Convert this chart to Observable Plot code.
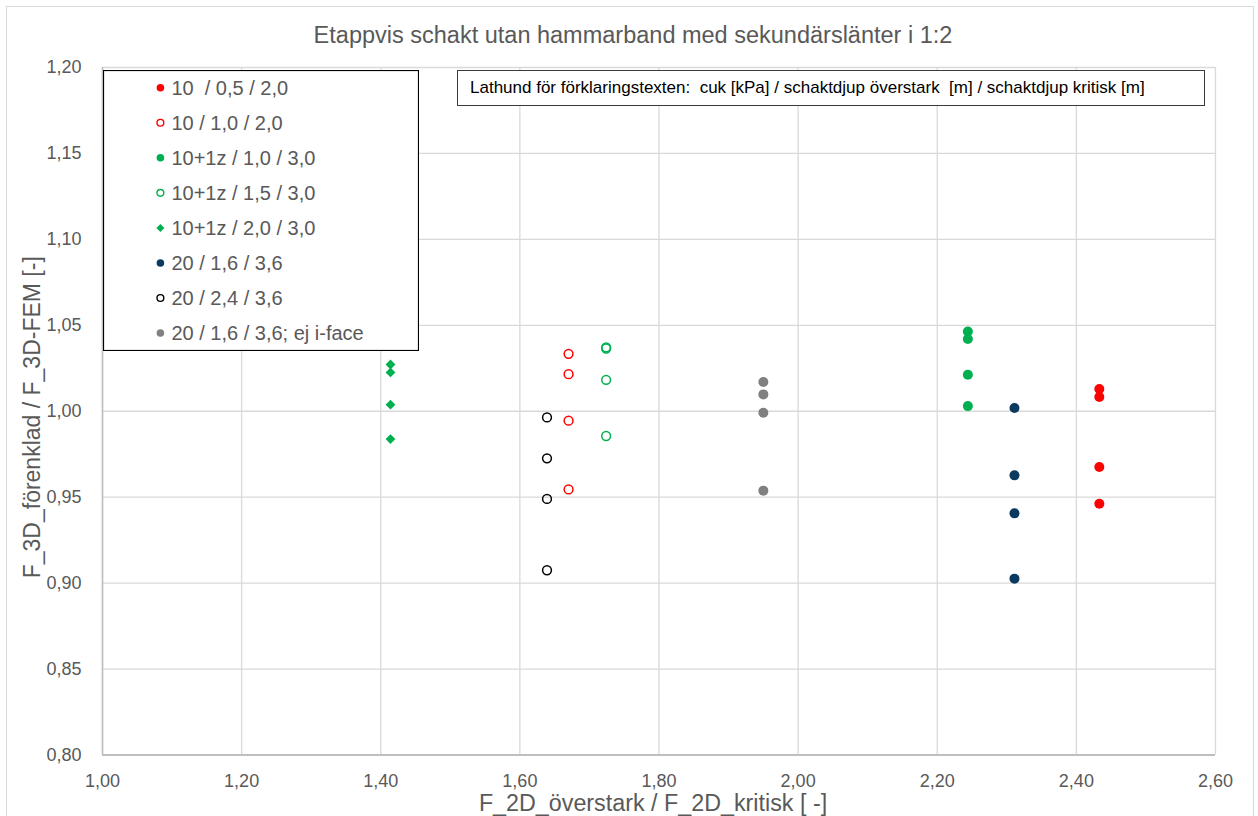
<!DOCTYPE html>
<html>
<head>
<meta charset="utf-8">
<script src="https://cdn.jsdelivr.net/npm/d3@7"></script>
<script src="https://cdn.jsdelivr.net/npm/@observablehq/plot@0.6"></script>
<style>
  html, body { margin: 0; padding: 0; background: #fff; overflow: hidden; }
  #chart { position: relative; width: 1258px; height: 816px; font-family: "Liberation Sans", Arial, sans-serif; }
  #chart > svg.main { position: absolute; left: 0; top: 0; }
  #chart > svg.legend { position: absolute; left: 103px; top: 70px; }
  .frame { position: absolute; left: 6px; top: 6px; width: 1246px; height: 830px; border: 1px solid #d9d9d9; pointer-events: none; }
  .note { position: absolute; left: 457px; top: 70px; width: 746px; height: 34px; border: 1px solid #3a3a3a; background: #fff;
          box-sizing: content-box; font-size: 17px; line-height: 34px; color: #000; padding: 0; white-space: pre; }
  .note span { position: absolute; left: 12px; top: 0; }
</style>
</head>
<body>
<div id="chart"></div>
<script>
// Chart texts
const title = "Etappvis schakt utan hammarband med sekundärslänter i 1:2";
const xTitle = "F_2D_överstark / F_2D_kritisk [ -]";
const yTitle = "F_3D_förenklad / F_3D-FEM [-]";
const noteText = "Lathund för förklaringstexten:  cuk [kPa] / schaktdjup överstark  [m] / schaktdjup kritisk [m]";

// Tick values on both axes
const xTicks = [1.0, 1.2, 1.4, 1.6, 1.8, 2.0, 2.2, 2.4, 2.6];
const yTicks = [0.80, 0.85, 0.90, 0.95, 1.00, 1.05, 1.10, 1.15, 1.20];

// Series: cuk / schaktdjup överstark / schaktdjup kritisk
const seriesNames = [
  "10  / 0,5 / 2,0",
  "10 / 1,0 / 2,0",
  "10+1z / 1,0 / 3,0",
  "10+1z / 1,5 / 3,0",
  "10+1z / 2,0 / 3,0",
  "20 / 1,6 / 3,6",
  "20 / 2,4 / 3,6",
  "20 / 1,6 / 3,6; ej i-face"
];
// F_2D_överstark / F_2D_kritisk for each series
const seriesX = [2.433, 1.670, 2.244, 1.724, 1.414, 2.311, 1.639, 1.950];
// F_3D_förenklad / F_3D-FEM, four cases per series
const seriesY = [
  [1.0129, 1.0083, 0.9676, 0.9462],
  [1.0334, 1.0216, 0.9945, 0.9545],
  [1.0464, 1.0420, 1.0212, 1.0030],
  [1.0372, 1.0365, 1.0183, 0.9856],
  [1.0272, 1.0226, 1.0038, 0.9838],
  [1.0019, 0.9627, 0.9406, 0.9026],
  [0.9964, 0.9726, 0.9490, 0.9075],
  [1.0170, 1.0098, 0.9991, 0.9538]
];

// Marker styles per series
const seriesColor = ["#ff0000", "#ff0000", "#00b050", "#00b050", "#00b050", "#0b3a60", "#000000", "#808080"];
const seriesMarker = ["dot", "ring", "dot", "ring", "diamond", "dot", "ring", "dot"];

const rows = seriesNames.flatMap((name, i) =>
  seriesY[i].map(y => ({series: i, name, x: seriesX[i], y}))
);

const fmt = d => d.toFixed(2).replace(".", ",");
const grey = "#595959";
const font = '"Liberation Sans", Arial, sans-serif';

function markFor(i) {
  const data = rows.filter(d => d.series === i);
  const c = seriesColor[i];
  switch (seriesMarker[i]) {
    case "ring": return Plot.dot(data, {x: "x", y: "y", r: 4.4, stroke: c, strokeWidth: 1.5, fill: "none"});
    case "diamond": return Plot.dot(data, {x: "x", y: "y", r: 4.4, symbol: "diamond2", fill: c, stroke: "none"});
    default: return Plot.dot(data, {x: "x", y: "y", r: 5, fill: c, stroke: "none"});
  }
}

const svg = Plot.plot({
  width: 1258,
  height: 816,
  marginLeft: 102,
  marginRight: 43,
  marginTop: 67,
  marginBottom: 61.5,
  style: {fontFamily: font, background: "transparent", overflow: "visible"},
  x: {domain: [1.0, 2.6], label: null},
  y: {domain: [0.8, 1.2], label: null},
  marks: [
    Plot.gridX(xTicks, {stroke: "#d9d9d9", strokeOpacity: 1, strokeWidth: 1.3}),
    Plot.gridY(yTicks, {stroke: "#d9d9d9", strokeOpacity: 1, strokeWidth: 1.3}),
    Plot.ruleX([1.0], {stroke: "#bfbfbf", strokeWidth: 1.6}),
    Plot.ruleY([0.8], {stroke: "#bfbfbf", strokeWidth: 2}),
    Plot.axisX(xTicks, {tickSize: 0, tickPadding: 19, tickFormat: fmt, fontSize: 18, color: grey, label: null}),
    Plot.axisY(yTicks, {tickSize: 0, tickPadding: 21, tickFormat: fmt, fontSize: 18, color: grey, label: null}),
    ...seriesNames.map((_, i) => markFor(i)),
    Plot.text([title], {text: d => d, frameAnchor: "top", lineAnchor: "middle", dx: -26, dy: -32, fontSize: 23.5, fill: grey}),
    Plot.text([xTitle], {text: d => d, frameAnchor: "bottom", lineAnchor: "middle", dx: -6, dy: 48.5, fontSize: 23.3, fill: grey}),
    Plot.text([yTitle], {text: d => d, frameAnchor: "left", textAnchor: "middle", lineAnchor: "middle", dx: -70, dy: 6, rotate: -90, fontSize: 23, fill: grey})
  ]
});
svg.classList.add("main");

const chart = document.getElementById("chart");
chart.appendChild(svg);

// Outer chart frame
const frame = document.createElement("div");
frame.className = "frame";
chart.appendChild(frame);

// Explanation box for the legend texts
const note = document.createElement("div");
note.className = "note";
const noteSpan = document.createElement("span");
noteSpan.textContent = noteText;
note.appendChild(noteSpan);
chart.appendChild(note);

// Legend box
const legW = 316, legH = 281, rowTop = 17.7, rowStep = 35.05;
const leg = d3.create("svg")
  .attr("class", "legend")
  .attr("width", legW)
  .attr("height", legH)
  .style("font-family", font);
leg.append("rect")
  .attr("x", 0.5).attr("y", 0.5)
  .attr("width", legW - 1).attr("height", legH - 1)
  .attr("fill", "#fff").attr("stroke", "#000").attr("stroke-width", 1.2);
seriesNames.forEach((name, i) => {
  const g = leg.append("g").attr("transform", `translate(57.4,${rowTop + i * rowStep})`);
  const c = seriesColor[i];
  if (seriesMarker[i] === "ring") {
    g.append("circle").attr("r", 3.4).attr("fill", "none").attr("stroke", c).attr("stroke-width", 1.4);
  } else if (seriesMarker[i] === "diamond") {
    g.append("path").attr("d", "M0,-4L4,0L0,4L-4,0Z").attr("fill", c);
  } else {
    g.append("circle").attr("r", 3.8).attr("fill", c);
  }
  g.append("text")
    .attr("x", 11).attr("dy", "0.35em")
    .attr("font-size", 20).attr("fill", grey)
    .attr("xml:space", "preserve")
    .style("white-space", "pre")
    .text(name);
});
chart.appendChild(leg.node());
</script>
</body>
</html>
